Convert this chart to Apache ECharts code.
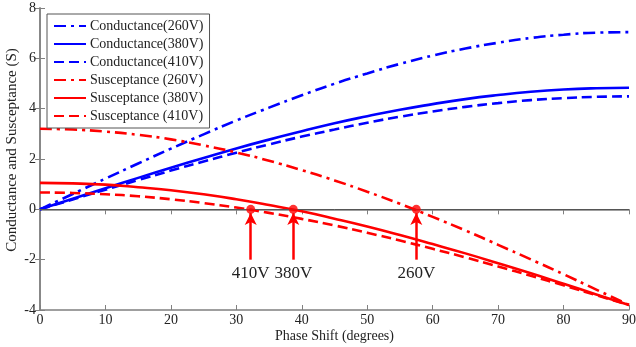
<!DOCTYPE html>
<html>
<head>
<meta charset="utf-8">
<script src="https://cdn.jsdelivr.net/npm/echarts@6/dist/echarts.min.js"></script>
<style>
  html, body { margin: 0; padding: 0; background: #fff; }
  #chart { width: 636px; height: 347px; }
</style>
</head>
<body>
<div id="chart"></div>
<script>
// phase shift samples (degrees)
const phaseShift = [0, 5, 10, 15, 20, 25, 30, 35, 40, 45, 50, 55, 60, 65, 70, 75, 80, 85, 90];

const conductance260 = [0, 0.61, 1.22, 1.82, 2.41, 2.98, 3.53, 4.04, 4.53, 4.99, 5.40, 5.78, 6.11, 6.39, 6.62, 6.81, 6.94, 7.02, 7.04];
const conductance380 = [0, 0.42, 0.84, 1.25, 1.65, 2.04, 2.42, 2.77, 3.10, 3.42, 3.70, 3.96, 4.18, 4.38, 4.54, 4.67, 4.76, 4.81, 4.83];
const conductance410 = [0, 0.39, 0.78, 1.16, 1.54, 1.90, 2.25, 2.58, 2.89, 3.17, 3.44, 3.68, 3.89, 4.07, 4.22, 4.34, 4.42, 4.47, 4.49];

const susceptance260 = [3.20, 3.17, 3.09, 2.96, 2.78, 2.54, 2.26, 1.93, 1.56, 1.15, 0.70, 0.22, -0.30, -0.84, -1.41, -1.99, -2.58, -3.19, -3.80];
const susceptance380 = [1.05, 1.03, 0.98, 0.88, 0.76, 0.60, 0.40, 0.17, -0.08, -0.37, -0.68, -1.02, -1.38, -1.75, -2.14, -2.54, -2.96, -3.38, -3.80];
const susceptance410 = [0.67, 0.65, 0.60, 0.52, 0.40, 0.25, 0.07, -0.14, -0.38, -0.64, -0.93, -1.24, -1.57, -1.91, -2.27, -2.64, -3.02, -3.41, -3.80];

// zero crossings of the susceptance curves
const crossings = [32.2, 38.7, 57.5];
const crossingLabels = ["410V", "380V", "260V"];
const arrowFrom = -2.0;
const arrowTo = -0.15;

const xTicks = { min: 0, max: 90, interval: 10 };
const yTicks = { min: -4, max: 8, interval: 2 };

const FONT = "Liberation Serif";
const BLUE = "#0000ff";
const RED = "#ff0000";
const AXIS = "#808080";

const pairs = (ys) => phaseShift.map((x, i) => [x, ys[i]]);

const curve = (name, ys, color, type) => ({
    name: name,
    type: "line",
    data: pairs(ys),
    smooth: true,
    symbol: "none",
    showSymbol: false,
    lineStyle: { color: color, width: 2.6, type: type },
    itemStyle: { color: color },
    z: 3,
});

const DASHDOT = [12, 5, 3, 5];
const DASH = [10, 5];

const chart = echarts.init(document.getElementById("chart"));

const option = {
    animation: false,
    textStyle: { fontFamily: FONT },
    grid: { left: 40, right: 7, top: 8, bottom: 37, outerBoundsMode: "none", containLabel: false },
    legend: {
        orient: "vertical",
        left: 47,
        top: 14,
        padding: [5, 6, 5, 6],
        itemWidth: 32,
        itemHeight: 12,
        itemGap: 4,
        backgroundColor: "#fff",
        borderColor: "#555",
        borderWidth: 1,
        itemStyle: { opacity: 0 },
        textStyle: { fontFamily: FONT, fontSize: 14, color: "#222", padding: [0, 0, 0, -1] },
        data: [
            "Conductance(260V)",
            "Conductance(380V)",
            "Conductance(410V)",
            "Susceptance (260V)",
            "Susceptance (380V)",
            "Susceptance (410V)",
        ],
    },
    xAxis: [
        {
            type: "value",
            min: xTicks.min,
            max: xTicks.max,
            interval: xTicks.interval,
            name: "Phase Shift (degrees)",
            nameLocation: "middle",
            nameGap: 19,
            nameMoveOverlap: false,
            nameTextStyle: { fontFamily: FONT, fontSize: 14, color: "#222" },
            axisLine: { onZero: false, lineStyle: { color: AXIS, width: 1.5 } },
            axisTick: { inside: true, length: 5, lineStyle: { color: AXIS } },
            axisLabel: { fontFamily: FONT, fontSize: 14, color: "#222", margin: 3 },
            splitLine: { show: false },
        },
        {
            type: "value",
            position: "top",
            min: xTicks.min,
            max: xTicks.max,
            interval: xTicks.interval,
            axisLine: { lineStyle: { color: AXIS, width: 1.5 } },
            axisTick: { inside: true, length: 5, lineStyle: { color: AXIS } },
            axisLabel: { show: false },
            splitLine: { show: false },
        },
    ],
    yAxis: [
        {
            type: "value",
            min: yTicks.min,
            max: yTicks.max,
            interval: yTicks.interval,
            name: "Conductance and Susceptance (S)",
            nameLocation: "middle",
            nameGap: 20,
            nameMoveOverlap: false,
            nameTextStyle: { fontFamily: FONT, fontSize: 15, color: "#222", padding: [0, 0, 0, 18] },
            axisLine: { show: true, onZero: false, lineStyle: { color: AXIS, width: 1.5 } },
            axisTick: { show: true, inside: true, length: 5, lineStyle: { color: AXIS } },
            axisLabel: { fontFamily: FONT, fontSize: 14, color: "#222", margin: 4 },
            splitLine: { show: false },
        },
        {
            type: "value",
            position: "right",
            min: yTicks.min,
            max: yTicks.max,
            interval: yTicks.interval,
            axisLine: { show: true, lineStyle: { color: AXIS, width: 1.5 } },
            axisTick: { show: true, inside: true, length: 5, lineStyle: { color: AXIS } },
            axisLabel: { show: false },
            splitLine: { show: false },
        },
    ],
    series: [
        curve("Conductance(260V)", conductance260, BLUE, DASHDOT),
        curve("Conductance(380V)", conductance380, BLUE, "solid"),
        curve("Conductance(410V)", conductance410, BLUE, DASH),
        curve("Susceptance (260V)", susceptance260, RED, DASHDOT),
        curve("Susceptance (380V)", susceptance380, RED, "solid"),
        curve("Susceptance (410V)", susceptance410, RED, DASH),
        {
            // zero line, arrows and their labels
            name: "crossings",
            type: "scatter",
            data: crossings.map((x) => [x, 0]),
            symbol: "circle",
            symbolSize: 9,
            itemStyle: { color: RED },
            z: 5,
            markLine: {
                silent: true,
                animation: false,
                data: [
                    [
                        { coord: [xTicks.min, 0], symbol: "none", lineStyle: { color: "#555", width: 1, type: "solid" }, label: { show: false } },
                        { coord: [xTicks.max, 0], symbol: "none" },
                    ],
                ].concat(
                    crossings.map((x, i) => [
                        {
                            coord: [x, arrowFrom],
                            symbol: "none",
                            lineStyle: { color: RED, width: 2.5, type: "solid" },
                            label: {
                                show: true,
                                position: "start",
                                formatter: crossingLabels[i],
                                fontFamily: FONT,
                                fontSize: 17,
                                color: "#222",
                                distance: 5,
                            },
                        },
                        { coord: [x, arrowTo], symbol: "arrow", symbolSize: [9, 12] },
                    ])
                ),
            },
        },
    ],
};

chart.setOption(option);
</script>
</body>
</html>
